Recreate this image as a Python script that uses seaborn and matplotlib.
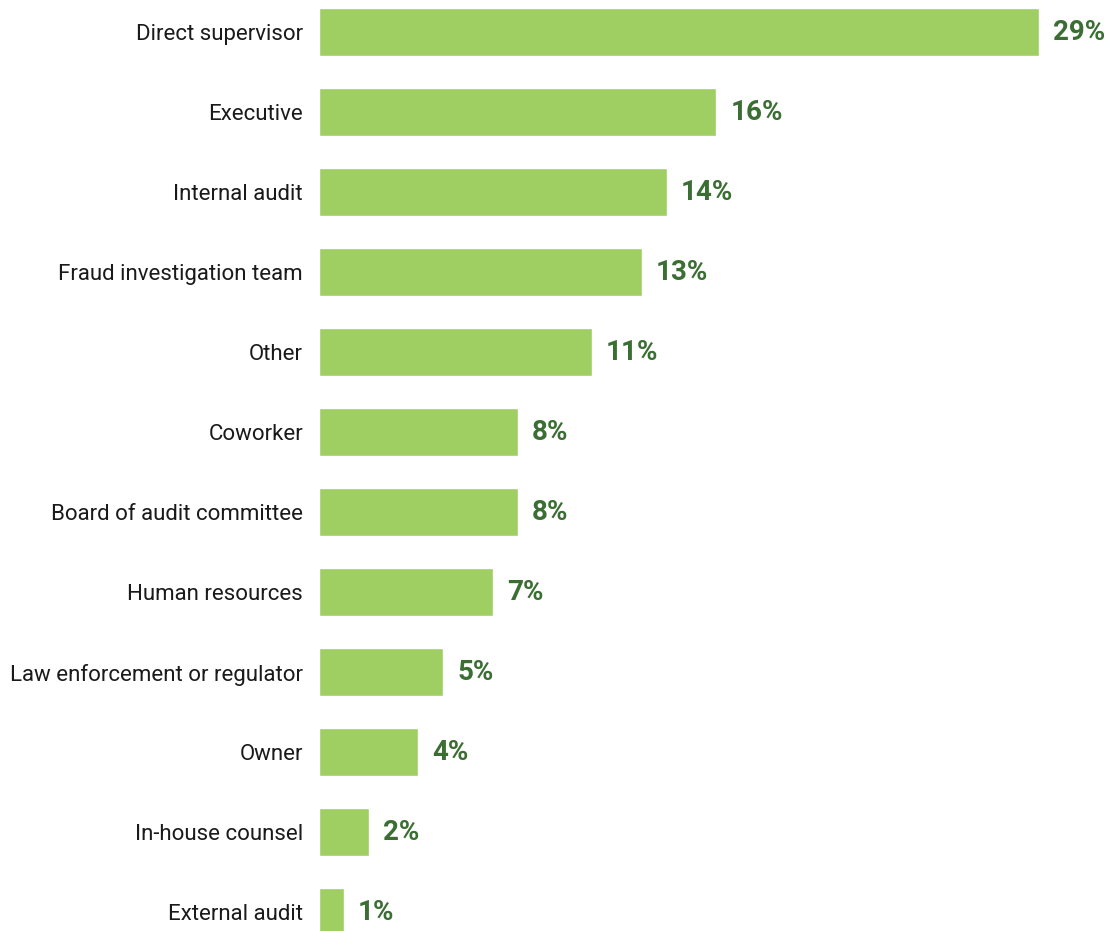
import matplotlib
matplotlib.use("Agg")
import matplotlib.pyplot as plt
import seaborn as sns
import pandas as pd

categories = ["Direct supervisor", "Executive", "Internal audit", "Fraud investigation team",
              "Other", "Coworker", "Board of audit committee", "Human resources",
              "Law enforcement or regulator", "Owner", "In-house counsel", "External audit"]
values = [29, 16, 14, 13, 11, 8, 8, 7, 5, 4, 2, 1]
value_labels = [f"{v}%" for v in values]

sns.set_theme(style="white")
plt.rcParams['font.family'] = ['Roboto', 'DejaVu Sans']

df = pd.DataFrame({"category": categories, "value": values})

W, H = 1105, 931
fig = plt.figure(figsize=(W / 100, H / 100), dpi=100)
ax = fig.add_axes([319 / W, 0, 1 - 319 / W, 1])

bar_color = "#9FCE63"
sns.barplot(data=df, y="category", x="value", order=categories, color=bar_color,
            saturation=1, width=0.6, ax=ax)

ax.set_xlim(0, 29 * (W - 319) / 720)
ax.set_ylim(11.2375, -0.4)
ax.set_xlabel("")
ax.set_ylabel("")
ax.set_xticks([])
for s in ax.spines.values():
    s.set_visible(False)
ax.tick_params(axis="y", length=0, pad=11.5, labelsize=16, labelcolor="#1a1a1a")

for i, (v, lab) in enumerate(zip(values, value_labels)):
    ax.annotate(lab, xy=(v, i), xytext=(14, 0), textcoords="offset pixels",
                ha="left", va="center", fontsize=20, fontweight="bold",
                color="#3B6E33", family=['Roboto', 'DejaVu Sans'])

fig.savefig("out.png", dpi=100)
